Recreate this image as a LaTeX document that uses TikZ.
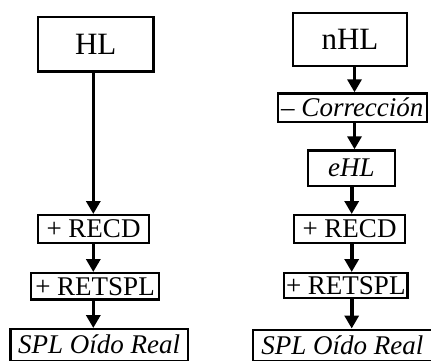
\documentclass[tikz,border=0pt]{standalone}
\usepackage{fontspec}
\setmainfont{Liberation Serif}
\usetikzlibrary{arrows.meta}
\begin{document}
\begin{tikzpicture}[x=1pt,y=-1pt,
  box/.style={draw,line width=2.2pt,inner sep=0pt,align=center,text depth=0pt},
  big/.style={font=\fontsize{31}{31}\selectfont,text height=20.5pt},
  small/.style={font=\fontsize{27}{27}\selectfont,text height=17.8pt},
  arr/.style={line width=3.6pt,-{Triangle[width=14pt,length=13pt]}}]
\path[use as bounding box,clip] (0,0) rectangle (431,360);
% left column
\node[box,big,minimum width=115.3pt,minimum height=54.6pt] (hl) at (95.75,44.1) {HL};
\node[box,small,minimum width=110.8pt,minimum height=27.8pt] (recdL) at (93.5,229) {+ RECD};
\node[box,small,minimum width=127.8pt,minimum height=26.3pt] (retsplL) at (95,286.25) {+ RETSPL};
\node[box,small,minimum width=177.5pt,minimum height=31.8pt] (splL) at (99.15,345) {\textit{SPL Oído Real}};
% right column
\node[box,big,minimum width=113.8pt,minimum height=52.5pt] (nhl) at (350,39.6) {nHL};
\node[box,small,minimum width=149.1pt,minimum height=28.8pt] (corr) at (352.35,107.8) {\textit{– Corrección}};
\node[box,small,minimum width=87.1pt,minimum height=35.2pt] (ehl) at (351.35,168) {\textit{eHL}};
\node[box,small,minimum width=110.8pt,minimum height=27.8pt] (recdR) at (349.5,229) {+ RECD};
\node[box,small,minimum width=123.3pt,minimum height=24.8pt] (retsplR) at (345.75,285.5) {+ RETSPL};
\node[box,small,minimum width=179.1pt,minimum height=31.8pt] (splR) at (342.35,345.5) {\textit{SPL Oído Real}};
% column axes
\coordinate (cL) at (93.3,0);
\coordinate (cR1) at (354.5,0);
\coordinate (cR2) at (351.7,0);
% connectors
\draw[arr] (hl.south -| cL) -- (recdL.north -| cL);
\draw[arr] (recdL.south -| cL) -- (retsplL.north -| cL);
\draw[arr] (retsplL.south -| cL) -- (splL.north -| cL);
\draw[arr] (nhl.south -| cR1) -- (corr.north -| cR1);
\draw[arr] (corr.south -| cR1) -- (ehl.north -| cR1);
\draw[arr] (ehl.south -| cR2) -- (recdR.north -| cR2);
\draw[arr] (recdR.south -| cR2) -- (retsplR.north -| cR2);
\draw[arr] (retsplR.south -| cR2) -- (splR.north -| cR2);
\end{tikzpicture}
\end{document}
